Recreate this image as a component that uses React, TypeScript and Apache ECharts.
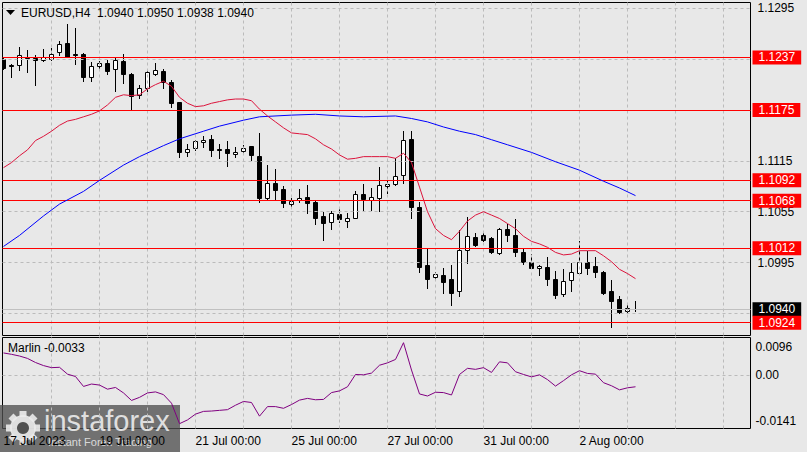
import React, { useEffect, useRef } from "react";
import * as echarts from "echarts";

const candleOpen = [
  1.1235, 1.1228, 1.1228, 1.1238, 1.1236, 1.1234, 1.1235, 1.1243, 1.1254, 1.1241,
  1.1241, 1.1214, 1.1227, 1.1231, 1.1223, 1.1233, 1.1218, 1.1193, 1.1201, 1.1218,
  1.1221, 1.1208, 1.1184, 1.1126, 1.1130, 1.1137, 1.1141, 1.1129, 1.1129, 1.1123,
  1.1127, 1.1132, 1.1121, 1.1071, 1.1089, 1.1082, 1.1064, 1.1069, 1.1072, 1.1067,
  1.1050, 1.1043, 1.1052, 1.1044, 1.1048, 1.1076, 1.1069, 1.1071, 1.1085, 1.1088,
  1.1098, 1.1141, 1.1060, 1.0992, 1.0978, 1.0980, 1.0975, 1.0961, 1.1010, 1.1025,
  1.1028, 1.1024, 1.1006, 1.1035, 1.1028, 1.1008, 1.0996, 1.0988, 1.0990, 1.0976,
  1.0958, 1.0974, 1.0983, 1.0996, 1.0991, 1.0984, 1.0961, 1.0952, 1.0938, 1.0940,
];
const candleHigh = [
  1.1238, 1.1229, 1.1249, 1.1246, 1.1240, 1.1247, 1.1248, 1.1257, 1.1276, 1.1272,
  1.1242, 1.1232, 1.1233, 1.1234, 1.1237, 1.1241, 1.1219, 1.1205, 1.1222, 1.1231,
  1.1224, 1.1210, 1.1185, 1.1135, 1.1140, 1.1144, 1.1146, 1.1135, 1.1139, 1.1131,
  1.1134, 1.1133, 1.1148, 1.1110, 1.1105, 1.1085, 1.1071, 1.1082, 1.1087, 1.1069,
  1.1055, 1.1056, 1.1058, 1.1054, 1.1079, 1.1088, 1.1083, 1.1108, 1.1092, 1.1118,
  1.1150, 1.1150, 1.1067, 1.1012, 1.0984, 1.0989, 1.0992, 1.1034, 1.1049, 1.1030,
  1.1030, 1.1025, 1.1036, 1.1041, 1.1046, 1.1012, 1.1005, 1.0992, 1.1001, 1.0985,
  1.0987, 1.0994, 1.1021, 1.1009, 1.1002, 1.0985, 1.0974, 1.0956, 1.0946, 1.0950,
];
const candleLow = [
  1.1223, 1.1214, 1.1222, 1.1220, 1.1204, 1.1233, 1.1234, 1.1240, 1.1237, 1.1229,
  1.1209, 1.1209, 1.1224, 1.1217, 1.1197, 1.1207, 1.1175, 1.1189, 1.1197, 1.1216,
  1.1201, 1.1179, 1.1119, 1.1121, 1.1128, 1.1131, 1.1121, 1.1118, 1.1109, 1.1119,
  1.1124, 1.1116, 1.1066, 1.1069, 1.1069, 1.1060, 1.1060, 1.1067, 1.1054, 1.1040,
  1.1022, 1.1035, 1.1043, 1.1037, 1.1047, 1.1057, 1.1057, 1.1056, 1.1077, 1.1087,
  1.1089, 1.1048, 1.0984, 1.0965, 1.0975, 1.0959, 1.0945, 1.0956, 1.0994, 1.1015,
  1.1021, 1.1006, 1.1005, 1.1020, 1.1003, 1.0993, 1.0988, 1.0980, 1.0969, 1.0953,
  1.0955, 1.0961, 1.0982, 1.0981, 1.0978, 1.0958, 1.0919, 1.0936, 1.0937, 1.0938,
];
const candleClose = [
  1.1225, 1.1227, 1.1240, 1.1236, 1.1234, 1.1237, 1.1241, 1.1253, 1.1238, 1.1240,
  1.1214, 1.1227, 1.1230, 1.1221, 1.1234, 1.1218, 1.1192, 1.1201, 1.1220, 1.1222,
  1.1208, 1.1183, 1.1125, 1.1129, 1.1138, 1.1140, 1.1128, 1.1128, 1.1124, 1.1126,
  1.1130, 1.1122, 1.1071, 1.1089, 1.1081, 1.1065, 1.1068, 1.1071, 1.1065, 1.1048,
  1.1042, 1.1053, 1.1046, 1.1048, 1.1076, 1.1070, 1.1072, 1.1087, 1.1088, 1.1097,
  1.1140, 1.1060, 1.0990, 1.0976, 1.0981, 1.0972, 1.0959, 1.1010, 1.1026, 1.1016,
  1.1022, 1.1007, 1.1035, 1.1028, 1.1008, 1.0996, 1.0989, 1.0991, 1.0975, 1.0957,
  1.0973, 1.0984, 1.0996, 1.0989, 1.0984, 1.0959, 1.0950, 1.0937, 1.0941, 1.0940,
];

// red (fast) moving average, one value per bar
const fastMA = [
  1.1107, 1.1113, 1.1121, 1.1128, 1.1139, 1.1144, 1.1150, 1.1157, 1.1162, 1.1164,
  1.1167, 1.1170, 1.1174, 1.1181, 1.1190, 1.1193, 1.1192, 1.1193, 1.1200, 1.1205,
  1.1209, 1.1203, 1.1190, 1.1183, 1.1179, 1.1180, 1.1183, 1.1185, 1.1187, 1.1188,
  1.1188, 1.1186, 1.1176, 1.1168, 1.1161, 1.1154, 1.1148, 1.1147, 1.1146, 1.1141,
  1.1134, 1.1129, 1.1122, 1.1117, 1.1118, 1.1120, 1.1120, 1.1120, 1.1120, 1.1118,
  1.1124, 1.1113, 1.1084, 1.1055, 1.1035, 1.1027, 1.1022, 1.1032, 1.1044, 1.1051,
  1.1055, 1.1051, 1.1047, 1.1041, 1.1035, 1.1026, 1.1020, 1.1017, 1.1013, 1.1007,
  1.1004, 1.1005, 1.1009, 1.1009, 1.1009, 1.1003, 1.0996, 1.0987, 1.0982, 1.0976,
];

// blue (slow) moving average, read at these bars
const slowMAIndex = [0, 2, 5, 7, 10, 12, 15, 17, 20, 22, 25, 27, 30, 32, 36, 39, 42, 45, 49, 51, 53, 55, 57, 59, 61, 63, 66, 69, 72, 75, 77, 79];
const slowMA = [
  1.1014, 1.1027, 1.1050, 1.1064, 1.1079, 1.1092, 1.1110, 1.1120, 1.1133, 1.1141,
  1.1150, 1.1156, 1.1163, 1.1167, 1.1169, 1.1170, 1.1168, 1.1167, 1.1168, 1.1165,
  1.1161, 1.1155, 1.1150, 1.1146, 1.1140, 1.1134, 1.1125, 1.1114, 1.1104, 1.1091,
  1.1083, 1.1074,
];

const marlin = [
  0.0066, 0.0062, 0.0057, 0.0050, 0.0038, 0.0029, 0.0023, 0.0024, 0.0004, -0.0003,
  -0.0032, -0.0025, -0.0028, -0.0040, -0.0035, -0.0051, -0.0073, -0.0064, -0.0051, -0.0048,
  -0.0056, -0.0081, -0.0141, -0.0130, -0.0113, -0.0105, -0.0104, -0.0102, -0.0100, -0.0087,
  -0.0076, -0.0079, -0.0119, -0.0091, -0.0091, -0.0096, -0.0085, -0.0072, -0.0067, -0.0071,
  -0.0070, -0.0050, -0.0045, -0.0033, 0.0003, 0.0002, 0.0007, 0.0030, 0.0037, 0.0047,
  0.0096, 0.0016, -0.0054, -0.0060, -0.0049, -0.0050, -0.0057, 0.0003, 0.0021, 0.0018,
  0.0023, 0.0009, 0.0040, 0.0037, 0.0011, 0.0003, -0.0004, 0.0002, -0.0012, -0.0031,
  -0.0015, 0.0002, 0.0014, 0.0006, 0.0004, -0.0021, -0.0030, -0.0042, -0.0036, -0.0033,
];

const levelPrices = [1.1237, 1.1175, 1.1092, 1.1068, 1.1012, 1.0924];
const bidPrice = 1.094;
const priceGrid = [1.1295, 1.1235, 1.1175, 1.1115, 1.1055, 1.0995, 1.0935];
const priceTickLabels = [1.1295, 1.1115, 1.1055, 1.0995];
const dayGrid = [6, 12, 18, 24, 30, 36, 42, 48, 54, 60, 66, 72, 78, 84, 90];
const dateTickIndex = [0, 12, 24, 36, 48, 60, 72];
const dateTickLabels = ["17 Jul 2023", "19 Jul 00:00", "21 Jul 00:00", "25 Jul 00:00", "27 Jul 00:00", "31 Jul 00:00", "2 Aug 00:00"];
const marlinTicks = [0.0096, 0, -0.0141];
const titleText = "EURUSD,H4  1.0940 1.0950 1.0938 1.0940";
const marlinTitle = "Marlin -0.0033";

const FONT = "Liberation Sans";

export default function App() {
  const ref = useRef<HTMLDivElement>(null);

  useEffect(() => {
    const el = ref.current;
    if (!el) return;
    const chart = echarts.init(el, undefined, { renderer: "svg" });

    const xMin = -0.125;
    const xMax = 93.375;

    const candleData = candleOpen.map((o, i) => [i, o, candleHigh[i], candleLow[i], candleClose[i]]);

    const renderCandle = (params: any, api: any) => {
      const k = api.value(0);
      const o = api.value(1);
      const h = api.value(2);
      const l = api.value(3);
      const c = api.value(4);
      const pO = api.coord([k, o]);
      const pC = api.coord([k, c]);
      const pH = api.coord([k, h]);
      const pL = api.coord([k, l]);
      const cx = Math.floor(pO[0]) + 0.5;
      const yH = Math.round(pH[1]);
      const yL = Math.round(pL[1]) + 1;
      const yTop = Math.round(Math.min(pO[1], pC[1])) + 0.5;
      const yBot = Math.round(Math.max(pO[1], pC[1])) + 0.5;
      const children: any[] = [
        {
          type: "line",
          shape: { x1: cx, y1: yH, x2: cx, y2: yL },
          style: { stroke: "#000", lineWidth: 1 },
        },
      ];
      if (yBot - yTop < 1) {
        children.push({
          type: "line",
          shape: { x1: cx - 2.5, y1: yTop, x2: cx + 2.5, y2: yTop },
          style: { stroke: "#000", lineWidth: 1 },
        });
      } else {
        children.push({
          type: "rect",
          shape: { x: cx - 2, y: yTop, width: 4, height: yBot - yTop },
          style: { fill: c > o ? "#FFFFFF" : "#000000", stroke: "#000", lineWidth: 1 },
        });
      }
      return { type: "group", children };
    };

    const gridLineStyle = { color: "#BBBBBB", width: 1, type: [3, 3] };

    const option: any = {
      animation: false,
      backgroundColor: "#E8E8E8",
      textStyle: { fontFamily: FONT },
      grid: [
        { left: 2.5, top: 2.5, width: 748, height: 333, show: true, z: 0, borderColor: "#000", borderWidth: 1, backgroundColor: "rgba(0,0,0,0)" },
        { left: 2.5, top: 337.5, width: 748, height: 91, show: true, z: 0, borderColor: "#000", borderWidth: 1, backgroundColor: "rgba(0,0,0,0)" },
      ],
      xAxis: [
        {
          type: "value", gridIndex: 0, min: xMin, max: xMax,
          axisLine: { show: false }, axisTick: { show: false }, axisLabel: { show: false }, splitLine: { show: false },
        },
        {
          type: "value", gridIndex: 1, min: xMin, max: xMax,
          axisLine: { show: false }, axisTick: { show: false }, splitLine: { show: false },
          axisLabel: {
            show: true,
            customValues: dateTickIndex,
            formatter: (v: number) => {
              const i = dateTickIndex.indexOf(Math.round(v));
              return i >= 0 ? dateTickLabels[i] : "";
            },
            color: "#000", fontSize: 12, fontFamily: FONT, align: "left", margin: 6,
          },
        },
      ],
      yAxis: [
        {
          type: "value", gridIndex: 0, position: "right", min: 1.0908904, max: 1.1301911,
          axisLine: { show: false }, axisTick: { show: false }, splitLine: { show: false },
          axisLabel: {
            show: true,
            customValues: priceTickLabels,
            formatter: (v: number) => v.toFixed(4),
            color: "#000", fontSize: 12, fontFamily: FONT, margin: 7,
          },
        },
        {
          type: "value", gridIndex: 1, position: "right", min: -0.015511, max: 0.011121,
          axisLine: { show: false }, axisTick: { show: false }, splitLine: { show: false },
          axisLabel: {
            show: true,
            customValues: marlinTicks,
            formatter: (v: number) => {
              if (v > 0.0001) return "{t|" + v.toFixed(4) + "}";
              if (v < -0.0001) return "{b|" + v.toFixed(4) + "}";
              return "0.00";
            },
            rich: {
              t: { padding: [9, 0, 0, 0], fontSize: 12, fontFamily: FONT, color: "#000" },
              b: { padding: [0, 0, 6, 0], fontSize: 12, fontFamily: FONT, color: "#000" },
            },
            color: "#000", fontSize: 12, fontFamily: FONT, margin: 5,
          },
        },
      ],
      series: [
        {
          name: "mainGrid", type: "line", xAxisIndex: 0, yAxisIndex: 0, data: [], z: 2,
          markLine: {
            silent: true, precision: 4, symbol: ["none", "none"], label: { show: false }, lineStyle: gridLineStyle,
            data: [...priceGrid.map((p) => ({ yAxis: p })), ...dayGrid.map((d) => ({ xAxis: d }))],
          },
        },
        {
          name: "subGrid", type: "line", xAxisIndex: 1, yAxisIndex: 1, data: [], z: 2,
          markLine: {
            silent: true, precision: 4, symbol: ["none", "none"], label: { show: false }, lineStyle: gridLineStyle,
            data: [{ yAxis: 0 }, ...dayGrid.map((d) => ({ xAxis: d }))],
          },
        },
        {
          name: "bid", type: "line", xAxisIndex: 0, yAxisIndex: 0, data: [], z: 3,
          markLine: {
            silent: true, precision: 4, symbol: ["none", "none"],
            lineStyle: { color: "#C0C0C0", width: 1, type: "solid" },
            label: {
              show: true, position: "end", distance: 2, formatter: bidPrice.toFixed(4),
              backgroundColor: "#000", color: "#FFF", padding: [1, 6, 1, 6], fontSize: 12, lineHeight: 12, fontFamily: FONT,
            },
            data: [{ yAxis: bidPrice }],
          },
        },
        {
          name: "candles", type: "custom", xAxisIndex: 0, yAxisIndex: 0, z: 4, clip: true,
          encode: { x: 0, y: [1, 2, 3, 4] },
          renderItem: renderCandle,
          data: candleData,
        },
        {
          name: "slowMA", type: "line", xAxisIndex: 0, yAxisIndex: 0, z: 5,
          data: slowMAIndex.map((k, i) => [k, slowMA[i]]),
          showSymbol: false, symbol: "none",
          lineStyle: { color: "#0000FF", width: 1 },
        },
        {
          name: "fastMA", type: "line", xAxisIndex: 0, yAxisIndex: 0, z: 5,
          data: fastMA.map((v, i) => [i, v]),
          showSymbol: false, symbol: "none",
          lineStyle: { color: "#DC143C", width: 1 },
        },
        {
          name: "levels", type: "line", xAxisIndex: 0, yAxisIndex: 0, data: [], z: 6,
          markLine: {
            silent: true, precision: 4, symbol: ["none", "none"],
            lineStyle: { color: "#FF0000", width: 1, type: "solid" },
            label: {
              show: true, position: "end", distance: 2,
              formatter: (p: any) => Number(p.value).toFixed(4),
              backgroundColor: "#FF0000", color: "#FFF", padding: [1, 6, 1, 6], fontSize: 12, lineHeight: 12, fontFamily: FONT,
            },
            data: levelPrices.map((p) => ({ yAxis: p })),
          },
        },
        {
          name: "Marlin", type: "line", xAxisIndex: 1, yAxisIndex: 1, z: 5,
          data: marlin.map((v, i) => [i, v]),
          showSymbol: false, symbol: "none",
          lineStyle: { color: "#800080", width: 1 },
        },
      ],
      graphic: [
        {
          type: "polygon", z: 100,
          shape: { points: [[6, 10], [15, 10], [10.5, 15]] },
          style: { fill: "#000" },
        },
        {
          type: "text", z: 100, x: 21, y: 13,
          style: { text: titleText, fill: "#000", fontSize: 12, fontFamily: FONT, align: "left", verticalAlign: "middle" },
        },
        {
          type: "text", z: 100, x: 8, y: 348,
          style: { text: marlinTitle, fill: "#000", fontSize: 12, fontFamily: FONT, align: "left", verticalAlign: "middle" },
        },
        {
          type: "group", z: 100,
          children: [
            { type: "rect", shape: { x: 0, y: 405, width: 180, height: 47 }, style: { fill: "rgba(80,80,80,0.78)" } },
            { type: "circle", shape: { cx: 23, cy: 428, r: 13 }, style: { fill: "rgba(235,235,235,0.9)" } },
            { type: "circle", shape: { cx: 23, cy: 428, r: 6 }, style: { fill: "rgba(80,80,80,1)" } },
            ...[0, 45, 90, 135, 180, 225, 270, 315].map((a) => ({
              type: "group", x: 23, y: 428, rotation: (a * Math.PI) / 180,
              children: [{ type: "rect", shape: { x: -3.5, y: -17, width: 7, height: 6 }, style: { fill: "rgba(235,235,235,0.9)" } }],
            })),
            {
              type: "text", x: 44, y: 421,
              style: { text: "instaforex", fill: "rgba(235,235,235,0.92)", fontSize: 29, fontFamily: FONT, align: "left", verticalAlign: "middle" },
            },
            {
              type: "text", x: 48, y: 442,
              style: { text: "Instant Forex Trading", fill: "rgba(230,230,230,0.9)", fontSize: 11, fontFamily: FONT, align: "left", verticalAlign: "middle" },
            },
          ],
        },
      ],
    };

    chart.setOption(option);
    return () => chart.dispose();
  }, []);

  return (
    <div
      ref={ref}
      style={{ position: "absolute", left: 0, top: 0, width: 807, height: 452, background: "#E8E8E8" }}
    />
  );
}
